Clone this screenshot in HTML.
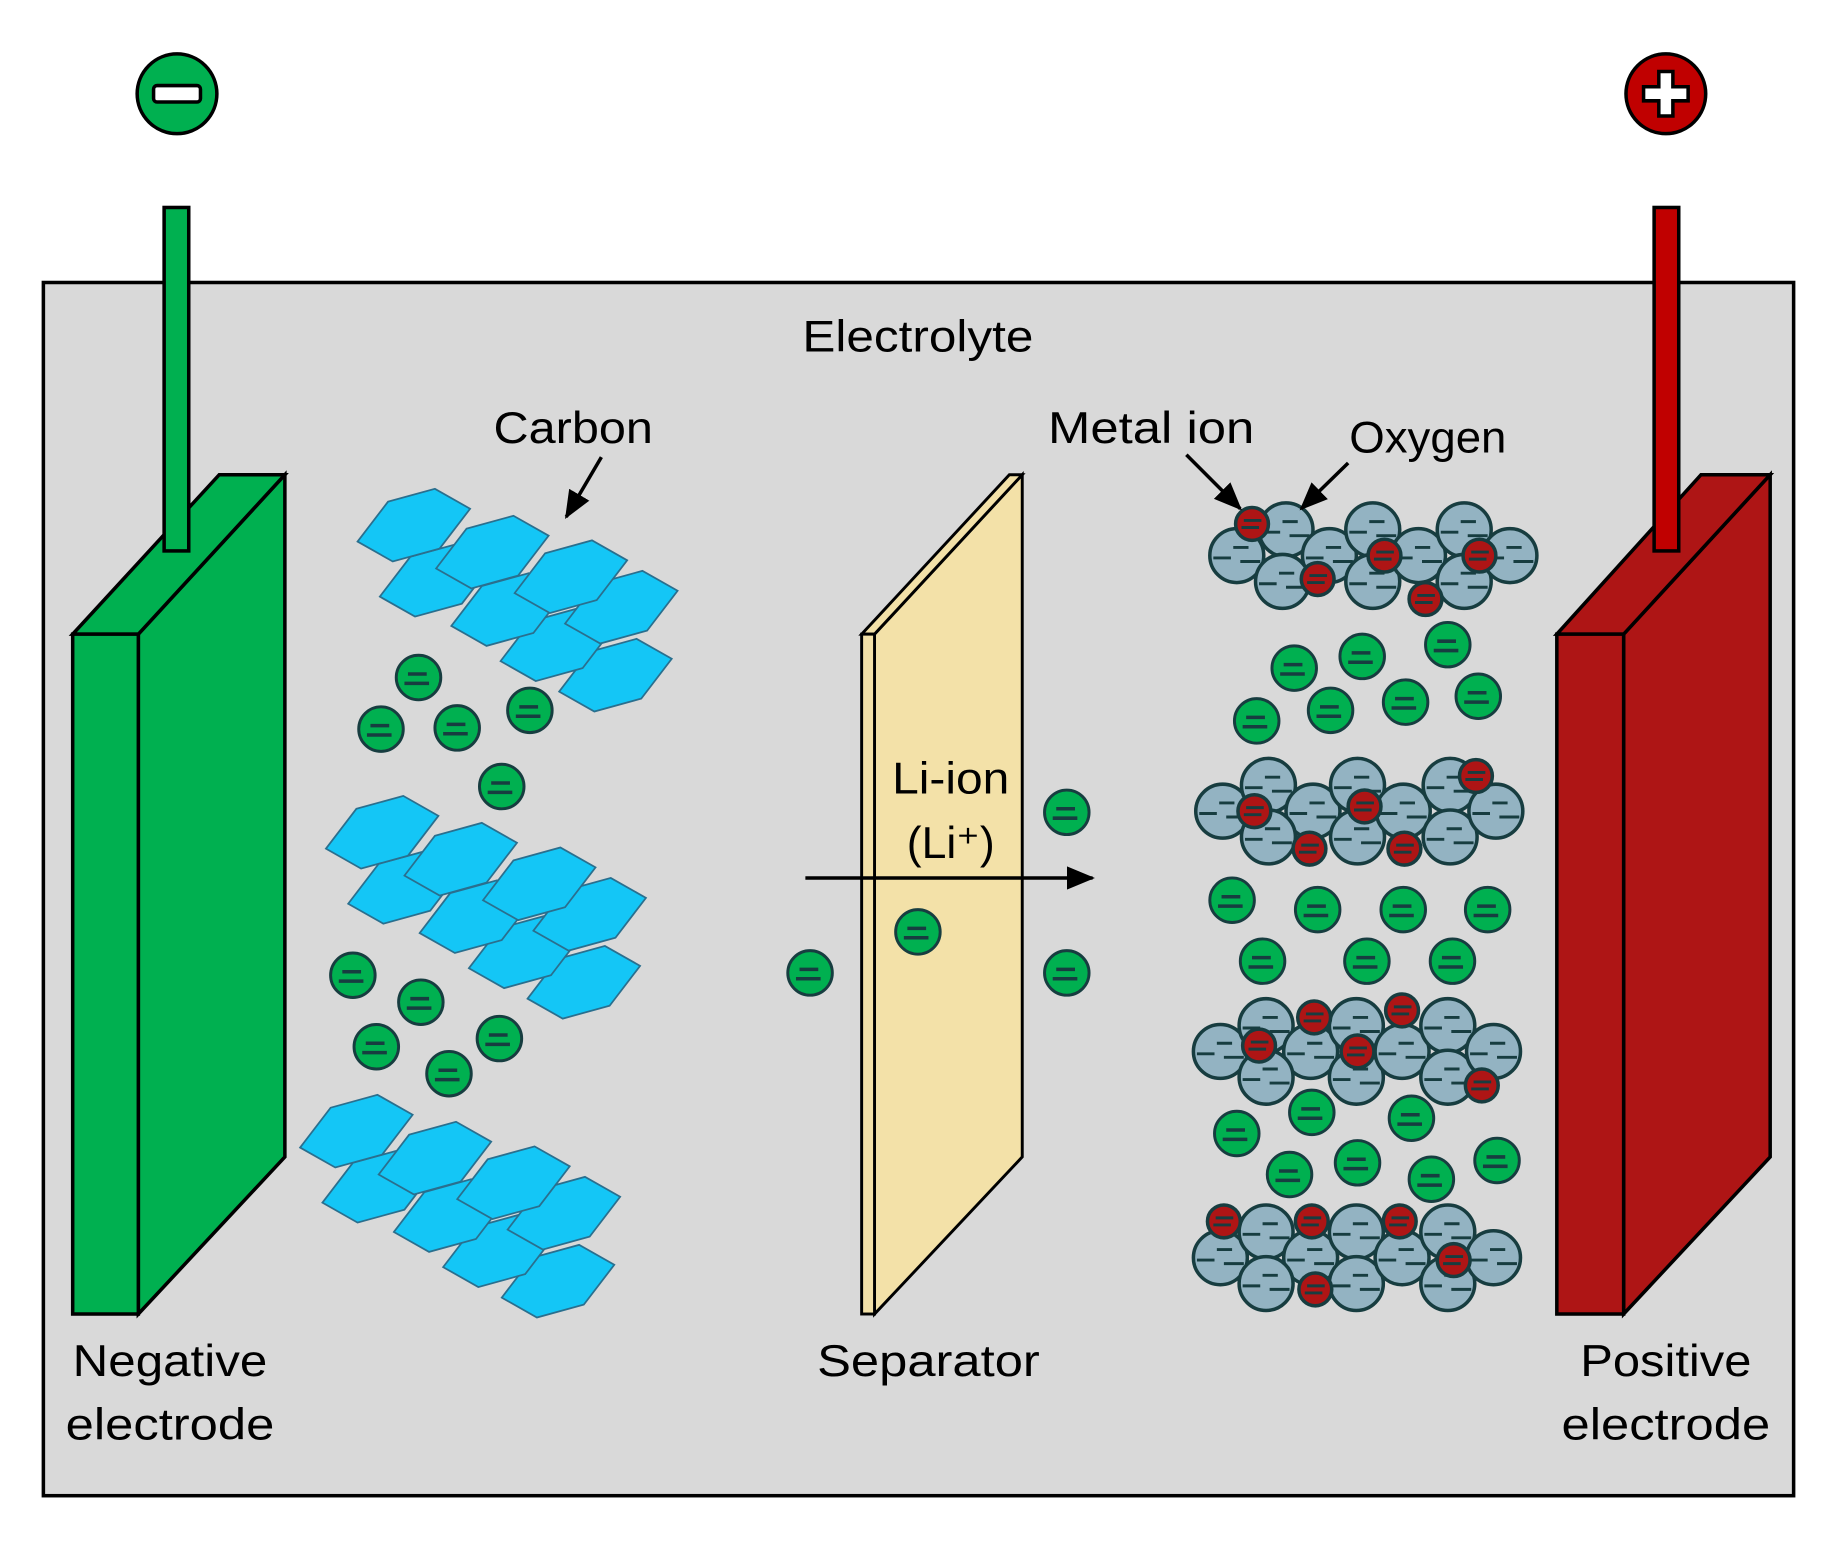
<!DOCTYPE html>
<html><head><style>html,body{margin:0;padding:0;background:#fff}svg{display:block}</style></head><body>
<svg width="1837" height="1542" viewBox="0 0 1567 1315.5" preserveAspectRatio="none" xmlns="http://www.w3.org/2000/svg" font-family="'Liberation Sans', sans-serif">
<defs>
<marker id="ah" markerWidth="24" markerHeight="20" refX="22" refY="10" orient="auto" markerUnits="userSpaceOnUse" viewBox="0 0 24 20"><path d="M0,0 L24,10 L0,20z" fill="#000"/></marker>
<g id="hex"><polygon points="-48,14 -22,-20 18,-31 48,-14 22,20 -18,31" fill="#14c6f6" stroke="#2a6f8e" stroke-width="1.5"/></g>
<g id="li"><circle r="19" fill="#00b050" stroke="#173d40" stroke-width="2.5"/><path d="M-9,-3 H7 M-12,5 H9" stroke="#173d40" stroke-width="3"/></g>
<g id="ox"><circle r="23" fill="#93b3c2" stroke="#173d40" stroke-width="3"/><path d="M-20,2 H-5 M-3,-7 H10 M3,5 H20" stroke="#173d40" stroke-width="2.5"/></g>
<g id="mi"><circle r="14" fill="#ae1515" stroke="#173d40" stroke-width="3"/><path d="M-7,-3 H8 M-9,3 H6" stroke="#173d40" stroke-width="2.5"/></g>
</defs>
<rect x="37" y="241" width="1493" height="1035" fill="#d9d9d9" stroke="#000" stroke-width="3"/>
<circle cx="151" cy="80" r="34" fill="#00b050" stroke="#000" stroke-width="3"/>
<rect x="131" y="73" width="40" height="14" rx="3" fill="#fff" stroke="#000" stroke-width="3"/>
<circle cx="1421" cy="80" r="34" fill="#c00000" stroke="#000" stroke-width="3"/>
<path d="M1415,61 h12 v13 h13 v12 h-13 v13 h-12 v-13 h-13 v-12 h13z" fill="#fff" stroke="#000" stroke-width="3"/>
<polygon points="118,541 243,405 243,987 118,1121" fill="#00b050" stroke="#000" stroke-width="3"/>
<polygon points="62,541 118,541 243,405 187,405" fill="#00b050" stroke="#000" stroke-width="3"/>
<rect x="62" y="541" width="56" height="580" fill="#00b050" stroke="#000" stroke-width="3"/>
<rect x="140" y="177" width="21" height="293" fill="#00b050" stroke="#000" stroke-width="3"/>
<polygon points="1385,541 1510,405 1510,987 1385,1121" fill="#ae1515" stroke="#000" stroke-width="3"/>
<polygon points="1328,541 1385,541 1510,405 1451,405" fill="#ae1515" stroke="#000" stroke-width="3"/>
<rect x="1328" y="541" width="57" height="580" fill="#ae1515" stroke="#000" stroke-width="3"/>
<rect x="1411" y="177" width="21" height="293" fill="#c00000" stroke="#000" stroke-width="3"/>
<polygon points="746,541 872,405 872,987 746,1121" fill="#f3e1a8" stroke="#000" stroke-width="2.5"/>
<polygon points="735,541 746,541 872,405 861,405" fill="#f3e1a8" stroke="#000" stroke-width="2.5"/>
<rect x="735" y="541" width="11" height="580" fill="#f3e1a8" stroke="#000" stroke-width="2.5"/>
<g id="cl">
<use href="#hex" x="525" y="576"/><use href="#hex" x="475" y="550"/><use href="#hex" x="530" y="518"/>
<use href="#hex" x="433" y="520"/><use href="#hex" x="372" y="495"/>
<use href="#hex" x="487" y="492"/><use href="#hex" x="420" y="471"/><use href="#hex" x="353" y="448"/>
</g>
<use href="#cl" x="-27" y="262"/>
<use href="#cl" x="-49" y="517"/>
<g>
<use href="#li" x="357" y="578"/><use href="#li" x="325" y="622"/><use href="#li" x="390" y="621"/><use href="#li" x="452" y="606"/><use href="#li" x="428" y="671"/>
<use href="#li" x="301" y="832"/><use href="#li" x="359" y="855"/><use href="#li" x="321" y="893"/><use href="#li" x="426" y="886"/><use href="#li" x="383" y="916"/>
<use href="#li" x="910" y="693"/><use href="#li" x="783" y="795"/><use href="#li" x="691" y="830"/><use href="#li" x="910" y="830"/>
<use href="#li" x="1104" y="570"/><use href="#li" x="1162" y="560"/><use href="#li" x="1235" y="550"/><use href="#li" x="1072" y="615"/><use href="#li" x="1135" y="606"/><use href="#li" x="1199" y="599"/><use href="#li" x="1261" y="594"/>
<use href="#li" x="1051" y="768"/><use href="#li" x="1124" y="776"/><use href="#li" x="1197" y="776"/><use href="#li" x="1269" y="776"/><use href="#li" x="1077" y="820"/><use href="#li" x="1166" y="820"/><use href="#li" x="1239" y="820"/>
<use href="#li" x="1055" y="967"/><use href="#li" x="1119" y="949"/><use href="#li" x="1204" y="954"/><use href="#li" x="1100" y="1002"/><use href="#li" x="1158" y="992"/><use href="#li" x="1221" y="1006"/><use href="#li" x="1277" y="990"/>
</g>
<g>
<use href="#ox" x="1055" y="474"/><use href="#ox" x="1097" y="452"/><use href="#ox" x="1134" y="474"/><use href="#ox" x="1094" y="496"/><use href="#ox" x="1171" y="452"/><use href="#ox" x="1171" y="496"/><use href="#ox" x="1210" y="474"/><use href="#ox" x="1249" y="452"/><use href="#ox" x="1249" y="496"/><use href="#ox" x="1288" y="474"/>
<use href="#mi" x="1068" y="447"/><use href="#mi" x="1124" y="494"/><use href="#mi" x="1181" y="474"/><use href="#mi" x="1216" y="511"/><use href="#mi" x="1262" y="474"/>
<use href="#ox" x="1043" y="692"/><use href="#ox" x="1082" y="670"/><use href="#ox" x="1120" y="692"/><use href="#ox" x="1082" y="714"/><use href="#ox" x="1158" y="670"/><use href="#ox" x="1158" y="714"/><use href="#ox" x="1197" y="692"/><use href="#ox" x="1237" y="670"/><use href="#ox" x="1237" y="714"/><use href="#ox" x="1276" y="692"/>
<use href="#mi" x="1070" y="692"/><use href="#mi" x="1117" y="724"/><use href="#mi" x="1164" y="688"/><use href="#mi" x="1198" y="724"/><use href="#mi" x="1259" y="662"/>
<use href="#ox" x="1041" y="897"/><use href="#ox" x="1080" y="875"/><use href="#ox" x="1118" y="897"/><use href="#ox" x="1080" y="919"/><use href="#ox" x="1157" y="875"/><use href="#ox" x="1157" y="919"/><use href="#ox" x="1196" y="897"/><use href="#ox" x="1235" y="875"/><use href="#ox" x="1235" y="919"/><use href="#ox" x="1274" y="897"/>
<use href="#mi" x="1074" y="892"/><use href="#mi" x="1121" y="868"/><use href="#mi" x="1158" y="897"/><use href="#mi" x="1196" y="862"/><use href="#mi" x="1264" y="926"/>
<use href="#ox" x="1041" y="1073"/><use href="#ox" x="1080" y="1051"/><use href="#ox" x="1118" y="1073"/><use href="#ox" x="1080" y="1095"/><use href="#ox" x="1157" y="1051"/><use href="#ox" x="1157" y="1095"/><use href="#ox" x="1196" y="1073"/><use href="#ox" x="1235" y="1051"/><use href="#ox" x="1235" y="1095"/><use href="#ox" x="1274" y="1073"/>
<use href="#mi" x="1044" y="1042"/><use href="#mi" x="1119" y="1042"/><use href="#mi" x="1194" y="1042"/><use href="#mi" x="1240" y="1075"/><use href="#mi" x="1122" y="1100"/>
</g>
<g stroke="#000" stroke-width="3" fill="none">
<line x1="513" y1="390" x2="483" y2="441" marker-end="url(#ah)"/>
<line x1="1012" y1="388" x2="1058" y2="434" marker-end="url(#ah)"/>
<line x1="1150" y1="395" x2="1110" y2="434" marker-end="url(#ah)"/>
<line x1="687" y1="749" x2="932" y2="749" marker-end="url(#ah)"/>
</g>
<g font-size="38" fill="#000" text-anchor="middle">
<text x="783" y="300" textLength="197" lengthAdjust="spacingAndGlyphs">Electrolyte</text>
<text x="489" y="378" textLength="136" lengthAdjust="spacingAndGlyphs">Carbon</text>
<text x="982" y="378" textLength="176" lengthAdjust="spacingAndGlyphs">Metal ion</text>
<text x="1218" y="386" textLength="134" lengthAdjust="spacingAndGlyphs">Oxygen</text>
<text x="811" y="677" textLength="100" lengthAdjust="spacingAndGlyphs">Li-ion</text>
<text x="811" y="732" textLength="75" lengthAdjust="spacingAndGlyphs">(Li⁺)</text>
<text x="145" y="1174" textLength="166" lengthAdjust="spacingAndGlyphs">Negative</text>
<text x="145" y="1228" textLength="178" lengthAdjust="spacingAndGlyphs">electrode</text>
<text x="792" y="1174" textLength="190" lengthAdjust="spacingAndGlyphs">Separator</text>
<text x="1421" y="1174" textLength="146" lengthAdjust="spacingAndGlyphs">Positive</text>
<text x="1421" y="1228" textLength="178" lengthAdjust="spacingAndGlyphs">electrode</text>
</g>
</svg>
</body></html>
